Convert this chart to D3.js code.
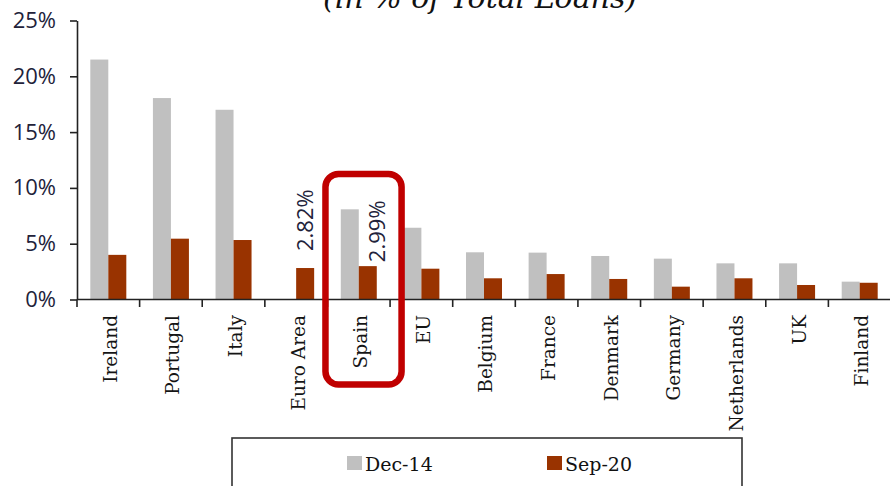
<!DOCTYPE html>
<html lang="en">
<head>
  <meta charset="utf-8" />
  <title>NPL ratio – Dec-14 vs Sep-20</title>
  <script src="https://cdn.jsdelivr.net/npm/d3@7/dist/d3.min.js"></script>
  <style>
    body{margin:0;background:#fff}
    svg{display:block}
    .title{font:italic 30px "DejaVu Serif",serif;fill:#111}
    .ytick text{font:22px "Open Sans",sans-serif;fill:#22223a}
    .xlab{font:18.5px "DejaVu Serif",serif;fill:#151515}
    .vlab{font:22px "Open Sans",sans-serif;fill:#22223a}
    .leg text{font:19px "DejaVu Serif",serif;fill:#111}
    .axis path,.axis line{stroke:#222;stroke-width:1.6px}
  </style>
</head>
<body>
<svg id="chart" width="890" height="486"></svg>
<script>
const countries=['Ireland','Portugal','Italy','Euro Area','Spain','EU','Belgium','France','Denmark','Germany','Netherlands','UK','Finland'];
const series=['Dec-14','Sep-20'];
const dec14=[21.5,18.05,17.0,0,8.08,6.43,4.23,4.2,3.9,3.66,3.24,3.24,1.6];
const sep20=[4.0,5.45,5.33,2.82,2.99,2.76,1.9,2.28,1.84,1.15,1.9,1.3,1.5];
const yTicks=[0,5,10,15,20,25];
const callouts=[{cat:'Euro Area',value:2.82},{cat:'Spain',value:2.99}];
const highlight='Spain';

const colors={'Dec-14':'#c0c0c0','Sep-20':'#993300'};
const svg=d3.select('#chart');

/* ---- scales ---- */
const x=d3.scaleBand().domain(countries).range([77,891]).padding(0);
const barW=18;
const xs=d3.scaleBand().domain(series).range([x.bandwidth()/2-barW,x.bandwidth()/2+barW]);
const y=d3.scaleLinear().domain([0,25]).range([299.5,20.5]);

/* ---- title (cropped at the top in the source) ---- */
svg.append('text').attr('class','title')
  .attr('x',480).attr('y',8).attr('text-anchor','middle')
  .text('(in % of Total Loans)');

/* ---- bars ---- */
const rows=countries.map((c,i)=>({cat:c,'Dec-14':dec14[i],'Sep-20':sep20[i]}));
svg.append('g').selectAll('g').data(rows).join('g')
  .attr('transform',d=>`translate(${x(d.cat)},0)`)
  .selectAll('rect').data(d=>series.map(s=>({s,v:d[s]}))).join('rect')
  .attr('x',d=>xs(d.s)).attr('width',xs.bandwidth())
  .attr('y',d=>y(d.v)).attr('height',d=>y(0)-y(d.v))
  .attr('fill',d=>colors[d.s]);

/* ---- y axis ---- */
const yAxis=svg.append('g').attr('class','axis ytick')
  .attr('transform','translate(77,0)')
  .call(d3.axisLeft(y).tickValues(yTicks).tickFormat(d=>d+'%').tickSize(7).tickPadding(14).tickSizeOuter(0));

/* ---- x axis: line + ticks at the band edges ---- */
const xg=svg.append('g').attr('class','axis');
xg.append('line').attr('x1',77).attr('x2',891).attr('y1',y(0)).attr('y2',y(0));
xg.selectAll('line.t').data(countries).join('line').attr('class','t')
  .attr('x1',d=>x(d)).attr('x2',d=>x(d)).attr('y1',y(0)).attr('y2',y(0)+7.5);

svg.append('g').selectAll('text').data(countries).join('text')
  .attr('class','xlab').attr('text-anchor','end').attr('dy','0.35em')
  .attr('transform',d=>`translate(${x(d)+x.bandwidth()/2+2},315) rotate(-90)`)
  .text(d=>d);

/* ---- value call-outs on the Sep-20 bars ---- */
const nudge={'Euro Area':[0,17],'Spain':[10,4]};
svg.append('g').selectAll('text').data(callouts).join('text')
  .attr('class','vlab').attr('dy','0.35em')
  .attr('transform',d=>{
    const cx=x(d.cat)+xs('Sep-20')+xs.bandwidth()/2+nudge[d.cat][0];
    return `translate(${cx},${y(d.value)-nudge[d.cat][1]}) rotate(-90)`;
  })
  .text(d=>d.value.toFixed(2)+'%');

/* ---- red rounded box around Spain ---- */
svg.append('rect')
  .attr('x',x(highlight)-2).attr('width',x.bandwidth()+13.5)
  .attr('y',174).attr('height',210.5)
  .attr('rx',13).attr('ry',13)
  .attr('fill','none').attr('stroke','#c00000').attr('stroke-width',6.5);

/* ---- legend ---- */
const leg=svg.append('g').attr('class','leg');
leg.append('rect').attr('x',232).attr('y',438).attr('width',510).attr('height',60)
  .attr('fill','none').attr('stroke','#333').attr('stroke-width',1.6);
const legX={'Dec-14':347,'Sep-20':547};
series.forEach(s=>{
  leg.append('rect').attr('x',legX[s]).attr('y',456).attr('width',15).attr('height',14).attr('fill',colors[s]);
  leg.append('text').attr('x',legX[s]+18).attr('y',471).text(s);
});
</script>
</body>
</html>
